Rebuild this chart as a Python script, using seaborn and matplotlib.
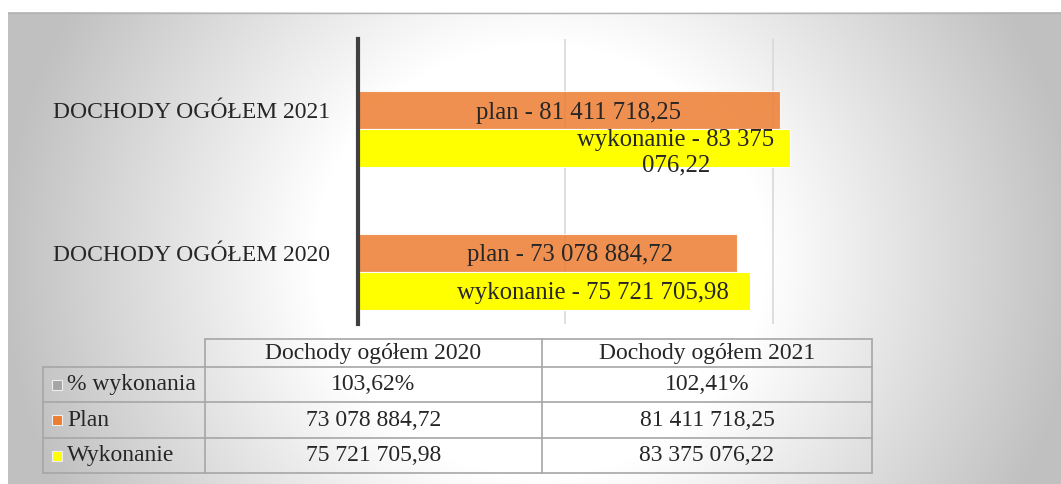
import numpy as np
import pandas as pd
import matplotlib
matplotlib.use('Agg')
from matplotlib import pyplot as plt
from matplotlib.patches import Rectangle
import seaborn as sns

# dane
categories = ['DOCHODY OGÓŁEM 2021', 'DOCHODY OGÓŁEM 2020']
series = ['% wykonania', 'Plan', 'Wykonanie']
pct = [1.0241, 1.0362]
plan = [81411718.25, 73078884.72]
wykonanie = [83375076.22, 75721705.98]

plan_labels = ['plan - 81 411 718,25', 'plan - 73 078 884,72']
wyk_labels = ['wykonanie - 83 375\n076,22', 'wykonanie - 75 721 705,98']

table_cols = ['Dochody ogółem 2020', 'Dochody ogółem 2021']
table_rows = ['% wykonania', 'Plan', 'Wykonanie']
table_pct = ['103,62%', '102,41%']
table_plan = ['73 078 884,72', '81 411 718,25']
table_wyk = ['75 721 705,98', '83 375 076,22']

colors = {'% wykonania': '#A5A5A5', 'Plan': '#ED7D31', 'Wykonanie': '#FFFF00'}
alphas = [1.0, 0.85, 1.0]
# where the labels sit inside the bars (fraction of bar length)
plan_frac = [0.524, 0.560]
wyk_frac = [0.736, 0.599]

df = pd.DataFrame({
    'kategoria': categories * 3,
    'seria': [s for s in series for _ in categories],
    'wartosc': pct + plan + wykonanie,
})

sns.set_style('white')
plt.rcParams['font.family'] = ['Liberation Serif', 'DejaVu Serif']
FS = 17
FS_LAB = 17.8
W, H = 1061, 484

fig = plt.figure(figsize=(W / 100, H / 100), dpi=100)

# tlo z gradientem
bg = fig.add_axes([0, 0, 1, 1], zorder=0)
xs = np.arange(8, W) + 0.5
ys = np.arange(12, H) + 0.5
gx, gy = np.meshgrid(xs, ys)
t = np.sqrt(((gx - 540) / 540) ** 2 + ((gy - 260) / 515) ** 2)
g = 1 - (63 / 255) * np.clip((t - 0.42) / 0.58, 0, 1)
bg.imshow(np.dstack([g, g, g]), extent=(8, W, H, 12), aspect='auto', interpolation='bilinear')
bg.plot([8, W], [12.5, 12.5], color='#b4b4b4', lw=1)
bg.set_xlim(0, W)
bg.set_ylim(H, 0)
bg.axis('off')

# tabela
lc = '#a6a6a6'
lw = 1.2
xcol = [43, 205, 542, 872]
yrow = [339, 367, 402, 438, 473]
bg.plot([205, 872], [339, 339], color=lc, lw=lw)
for y in yrow[1:]:
    bg.plot([43, 872], [y, y], color=lc, lw=lw)
bg.plot([43, 43], [367, 473], color=lc, lw=lw)
for x in xcol[1:]:
    bg.plot([x, x], [339, 473], color=lc, lw=lw)

for j, col in enumerate(table_cols):
    xc = (xcol[j + 1] + xcol[j + 2]) / 2
    bg.text(xc, (yrow[0] + yrow[1]) / 2, col, ha='center', va='center', fontsize=FS)
cells = [table_pct, table_plan, table_wyk]
for i, name in enumerate(table_rows):
    yc = (yrow[i + 1] + yrow[i + 2]) / 2
    bg.add_patch(Rectangle((52, yc - 5), 10, 10, facecolor=colors[name],
                           edgecolor='#eeeeee', lw=0.8))
    bg.text(67, yc, name, ha='left', va='center', fontsize=FS)
    for j, val in enumerate(cells[i]):
        xc = (xcol[j + 1] + xcol[j + 2]) / 2
        bg.text(xc, yc, val, ha='center', va='center', fontsize=FS)

# wykres slupkowy
x0, x1 = 357.5, 357.5 + 5.19 * 90
y0, y1 = 39, 324
ax = fig.add_axes([x0 / W, 1 - y1 / H, (x1 - x0) / W, (y1 - y0) / H], zorder=1)
ax.patch.set_alpha(0)

sns.barplot(data=df, x='wartosc', y='kategoria', hue='seria', hue_order=series,
            order=categories, palette=colors, orient='h', width=0.8, saturation=1,
            edgecolor=(1, 1, 1, 0.6), linewidth=0.8, legend=False, ax=ax)

for cont, a in zip(ax.containers, alphas):
    for bar in cont:
        bar.set_alpha(a)

ax.set_xlim(0, 90e6)
ax.set_ylim(1.5, -0.5)
ax.set_xticks([0, 40e6, 80e6])
ax.xaxis.grid(True, color='#d9d9d9', lw=1.2)
ax.set_axisbelow(True)
ax.tick_params(axis='x', length=0, labelbottom=False)
ax.tick_params(axis='y', length=0, pad=20, labelsize=FS)
ax.set_xlabel('')
ax.set_ylabel('')
for s in ['top', 'right', 'bottom']:
    ax.spines[s].set_visible(False)
ax.spines['left'].set_color('#404040')
ax.spines['left'].set_linewidth(3)

for bars, labels, fr in [(ax.containers[1], plan_labels, plan_frac),
                         (ax.containers[2], wyk_labels, wyk_frac)]:
    for bar, lab, f in zip(bars, labels, fr):
        yc = bar.get_y() + bar.get_height() / 2
        ax.text(bar.get_width() * f, yc, lab, ha='center', va='center_baseline',
                fontsize=FS_LAB, linespacing=1.2)

fig.savefig('out.png', dpi=100)
